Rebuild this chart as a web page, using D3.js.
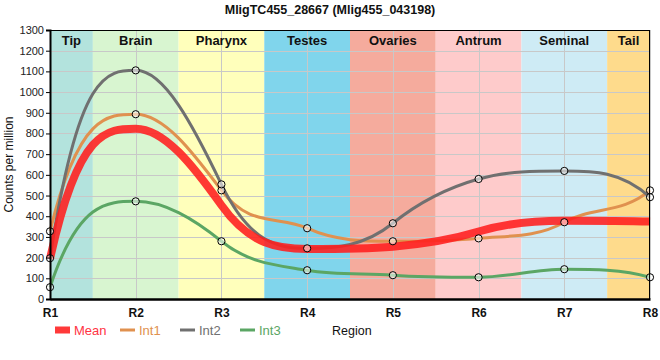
<!DOCTYPE html>
<html>
<head>
<meta charset="utf-8">
<script src="https://cdn.jsdelivr.net/npm/d3@7"></script>
<style>
  html, body { margin: 0; padding: 0; background: #fff; }
  svg { display: block; font-family: "Liberation Sans", Arial, sans-serif; }
</style>
</head>
<body>
<svg id="chart" width="660" height="360"></svg>
<script>
const title = "MligTC455_28667 (Mlig455_043198)";
const regions = ["R1", "R2", "R3", "R4", "R5", "R6", "R7", "R8"];
const bandNames = ["Tip", "Brain", "Pharynx", "Testes", "Ovaries", "Antrum", "Seminal", "Tail"];
const bandColors = ["#b3e3dd", "#d8f5d0", "#ffffbb", "#80d5ec", "#f5ab9d", "#fecbcb", "#ceebf5", "#fedb8c"];
const yTicks = [0, 100, 200, 300, 400, 500, 600, 700, 800, 900, 1000, 1100, 1200, 1300];
const meanValues = [194, 823, 453, 242, 253, 326, 378, 374];
const int1Values = [327, 893, 525, 342, 279, 293, 371, 525];
const int2Values = [197, 1105, 554, 245, 366, 580, 619, 492];
const int3Values = [57, 472, 279, 139, 115, 105, 144, 105];
const seriesNames = ["Mean", "Int1", "Int2", "Int3"];
const seriesColors = ["#ff1e1e", "#e0914f", "#707070", "#5ba664"];

const series = [
  { name: seriesNames[0], values: meanValues, color: seriesColors[0], width: 8, opacity: 0.88, markers: false },
  { name: seriesNames[1], values: int1Values, color: seriesColors[1], width: 3, opacity: 1, markers: true },
  { name: seriesNames[2], values: int2Values, color: seriesColors[2], width: 3, opacity: 1, markers: true },
  { name: seriesNames[3], values: int3Values, color: seriesColors[3], width: 3, opacity: 1, markers: true }
];

// Smooth curve factory (cubic Hermite, monotone-limited tangents) for d3.line
function curveSmoothPlateau(context) {
  return {
    lineStart() { this.xs = []; this.ys = []; },
    lineEnd() {
      const xs = this.xs, ys = this.ys, n = xs.length;
      if (!n) return;
      context.moveTo(xs[0], ys[0]);
      if (n === 1) return;
      const s = [];
      for (let i = 0; i < n - 1; i++) s.push((ys[i + 1] - ys[i]) / (xs[i + 1] - xs[i]));
      const m = new Array(n).fill(0);
      for (let i = 1; i < n - 1; i++) {
        if (s[i - 1] * s[i] > 0) {
          const a = Math.abs(s[i - 1]), b = Math.abs(s[i]);
          m[i] = Math.sign(s[i]) * Math.min(3 * Math.min(a, b), a + b);
        }
      }
      const endT = (sec, adj) => {
        let t = 3 * sec - 0.5 * adj;
        if (t * sec < 0) t = 0;
        return t;
      };
      if (n === 2) { m[0] = m[1] = s[0]; }
      else { m[0] = endT(s[0], m[1]); m[n - 1] = endT(s[n - 2], m[n - 2]); }
      for (let i = 0; i < n - 1; i++) {
        const dx = (xs[i + 1] - xs[i]) / 3;
        context.bezierCurveTo(xs[i] + dx, ys[i] + dx * m[i], xs[i + 1] - dx, ys[i + 1] - dx * m[i + 1], xs[i + 1], ys[i + 1]);
      }
    },
    point(x, y) { this.xs.push(+x); this.ys.push(+y); },
    areaStart() {}, areaEnd() {}
  };
}

const L = 50, R = 650, T = 30, B = 299;
const svg = d3.select("#chart");
const x = d3.scalePoint().domain(regions).range([L, R]);
const xi = d3.scaleLinear().domain([0, regions.length - 1]).range([L, R]);
const y = d3.scaleLinear().domain([0, 1300]).range([B, T]);

// bands
const bands = bandNames.map((n, i) => ({ name: n, color: bandColors[i], x0: Math.max(L, xi(i - 0.5)), x1: Math.min(R, xi(i + 0.5)) }));
svg.append("g").selectAll("rect").data(bands).join("rect")
  .attr("x", d => d.x0).attr("y", T).attr("width", d => d.x1 - d.x0).attr("height", B - T)
  .attr("fill", d => d.color);

// grid
const grid = svg.append("g").attr("stroke", "#c8c8c8").attr("stroke-width", 1);
grid.selectAll("line.h").data(yTicks).join("line").attr("class", "h")
  .attr("x1", L).attr("x2", R).attr("y1", d => Math.round(y(d)) + 0.5).attr("y2", d => Math.round(y(d)) + 0.5);
grid.selectAll("line.v").data(regions).join("line").attr("class", "v")
  .attr("x1", d => Math.round(x(d)) + 0.5).attr("x2", d => Math.round(x(d)) + 0.5).attr("y1", T).attr("y2", B);

// band labels
svg.append("g").selectAll("text").data(bands).join("text")
  .attr("x", d => (d.x0 + d.x1) / 2).attr("y", 45)
  .attr("text-anchor", "middle").attr("font-size", 13).attr("font-weight", "bold").attr("fill", "#111")
  .text(d => d.name);

// lines
const line = d3.line().x((d, i) => x(regions[i])).y(d => y(d)).curve(curveSmoothPlateau);
const drawOrder = [series[1], series[2], series[3], series[0]];
svg.append("g").selectAll("path").data(drawOrder).join("path")
  .attr("d", d => line(d.values)).attr("fill", "none")
  .attr("stroke", d => d.color).attr("stroke-width", d => d.width).attr("stroke-opacity", d => d.opacity)
  .attr("stroke-linejoin", "round");

// markers
const pts = [];
series.filter(s => s.markers).forEach(s => s.values.forEach((v, i) => pts.push({ r: regions[i], v })));
svg.append("g").selectAll("circle").data(pts).join("circle")
  .attr("cx", d => x(d.r)).attr("cy", d => y(d.v)).attr("r", 3.6)
  .attr("fill", "rgba(255,255,255,0.55)").attr("stroke", "#000").attr("stroke-width", 1);

// frame
svg.append("rect").attr("x", L + 0.5).attr("y", T + 0.5).attr("width", R - L - 1).attr("height", B - T)
  .attr("fill", "none").attr("stroke", "#000").attr("stroke-width", 1);

// y axis
const yAxis = svg.append("g").attr("transform", `translate(${L},0)`)
  .call(d3.axisLeft(y).tickValues(yTicks).tickFormat(d3.format("d")).tickSize(4).tickPadding(2));
yAxis.select(".domain").attr("stroke-width", 2);
yAxis.selectAll("text").attr("font-size", 11).attr("fill", "#222").attr("font-family", "Liberation Sans, Arial, sans-serif");

// x axis
const xAxis = svg.append("g").attr("transform", `translate(0,${B})`)
  .call(d3.axisBottom(x).tickSize(0).tickPadding(9));
xAxis.select(".domain").attr("stroke-width", 2.5);
xAxis.selectAll("text").attr("font-size", 12).attr("font-weight", "bold").attr("fill", "#111").attr("font-family", "Liberation Sans, Arial, sans-serif");

// title
svg.append("text").attr("x", 330).attr("y", 14).attr("text-anchor", "middle")
  .attr("font-size", 12.5).attr("font-weight", "bold").attr("fill", "#111").text(title);

// y title
svg.append("text").attr("transform", `translate(13,${(T + B) / 2}) rotate(-90)`)
  .attr("text-anchor", "middle").attr("font-size", 12).attr("fill", "#111").text("Counts per million");

// legend
const legX = [55, 120, 180, 240];
const leg = svg.append("g").selectAll("g").data(series).join("g")
  .attr("transform", (d, i) => `translate(${legX[i]},330)`);
leg.append("line").attr("x1", 0).attr("x2", 15).attr("y1", 0).attr("y2", 0)
  .attr("stroke", d => d.color).attr("stroke-width", d => d.name === "Mean" ? 7 : 3).attr("stroke-opacity", d => d.opacity);
leg.append("text").attr("x", 19).attr("y", 4.5).attr("font-size", 13).attr("fill", d => d.name === "Mean" ? "#ff3344" : d.color)
  .text(d => d.name);

svg.append("text").attr("x", 332).attr("y", 335).attr("font-size", 12.5).attr("fill", "#111").text("Region");
</script>
</body>
</html>
